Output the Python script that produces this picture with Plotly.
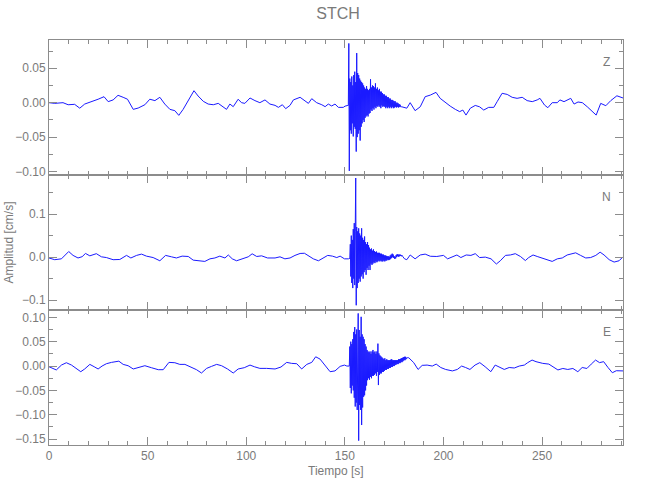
import numpy as np
import plotly.graph_objects as go
from plotly.subplots import make_subplots

# ---------------- Data ----------------
# Z component: quiet part before the event (time [s], amplitude [cm/s])
z_pre_t = [0.0, 2.9, 7.1, 9.7, 13.0, 15.6, 18.1, 21.5, 24.9, 27.9, 30.0, 32.5, 35.0, 37.6, 39.8,
           42.7, 45.2, 48.6, 51.1, 53.7, 56.2, 58.7, 61.3, 63.8, 65.8, 68.0, 70.6, 73.5, 75.6,
           78.2, 80.7, 83.3, 85.8, 88.3, 90.0, 91.7, 93.4, 95.9, 97.6, 99.3, 101.9, 104.4, 106.9,
           109.5, 112.0, 114.6, 116.3, 118.3, 120.0, 122.2, 123.9, 127.3, 129.8, 131.5, 133.2,
           135.7, 138.3, 140.0, 141.6, 143.3, 145.0, 146.7, 149.2, 150.1, 151.5]
z_pre_v = [0.0, -0.001, 0.0, -0.003, -0.0024, -0.008, -0.002, 0.001, 0.005, 0.0087, 0.0015, 0.004,
           0.0107, 0.0078, 0.005, -0.0097, -0.0078, -0.003, 0.005, 0.003, 0.0078, -0.002, -0.0097,
           -0.0116, -0.0184, -0.0097, 0.003, 0.0174, 0.0097, 0.002, -0.002, -0.003, -0.001,
           -0.0058, -0.0097, -0.002, -0.0058, 0.005, 0.0, -0.001, 0.0068, 0.003, 0.0, 0.004,
           -0.002, -0.0039, -0.0068, -0.003, -0.0087, -0.0039, 0.004, 0.0078, 0.002, -0.001,
           0.0058, 0.0, -0.003, -0.0058, -0.002, -0.0048, -0.002, -0.0068, -0.0068, -0.005, -0.004]
# Z component: strong-motion part, sampled every 0.25 s from 151.75 s
z_evt_start = 151.75
z_evt_v = [-0.004, 0.086, -0.099, 0.035, -0.040, 0.030, -0.045, 0.038, -0.030, 0.025, -0.049,
           0.040, -0.035, 0.045, -0.038, 0.030, -0.071, 0.072, -0.050, 0.043, -0.045, 0.040,
           -0.040, 0.035, -0.055, 0.032, -0.035, 0.030, -0.030, 0.028, -0.025, 0.025, -0.028,
           0.022, -0.022, 0.020, -0.020, 0.024, -0.018, 0.020, -0.020, 0.018, -0.016, 0.020,
           -0.015, 0.034, -0.010, 0.022, -0.012, 0.025, -0.008, 0.024, -0.010, 0.022, -0.006,
           0.028, -0.008, 0.020, -0.005, 0.022, -0.006, 0.018, -0.004, 0.020, -0.006, 0.016,
           -0.008, 0.016, -0.004, 0.014, -0.006, 0.012, -0.005, 0.012, -0.006, 0.010, -0.008,
           0.010, -0.006, 0.008, -0.008, 0.008, -0.006, 0.006, -0.008, 0.006, -0.006, 0.004,
           -0.008, 0.004, -0.006, 0.003, -0.008, 0.002, -0.007, 0.002, -0.006, 0.000, -0.007,
           0.000, -0.006, -0.001, -0.007, -0.002, -0.006, -0.003, -0.006]
z_post_t = [178.9, 181.4, 183.1, 185.6, 188.2, 190.7, 193.3, 196.2, 198.3, 200.9, 203.4, 206.0,
            208.2, 209.8, 211.4, 213.6, 216.1, 218.3, 220.4, 222.9, 225.5, 227.2, 229.7, 232.3,
            234.8, 237.3, 239.9, 242.4, 245.0, 247.5, 248.9, 251.2, 252.9, 255.1, 257.7, 259.0,
            261.1, 264.5, 266.2, 268.2, 270.4, 272.9, 275.5, 277.4, 279.7, 282.3, 284.8, 287.9, 291.0]
z_post_v = [-0.006, -0.008, 0.0, -0.0116, -0.006, 0.0087, 0.011, 0.015, 0.0063, 0.0, -0.005,
            -0.0097, -0.013, -0.0107, -0.018, -0.008, -0.004, -0.006, -0.0107, -0.0068, -0.0068,
            0.0015, 0.0136, 0.012, 0.0078, 0.0063, 0.0078, 0.003, 0.0015, 0.004, 0.0063, -0.0034,
            -0.0073, 0.0, 0.0, 0.004, 0.0015, 0.0063, -0.002, 0.001, 0.0, -0.006, -0.013, -0.018,
            -0.001, -0.0044, 0.003, 0.010, 0.0068]

# N component
n_pre_t = [0.0, 2.9, 6.3, 10.0, 12.2, 14.7, 16.8, 18.5, 20.7, 24.0, 26.6, 29.1, 32.5, 35.9, 39.3,
           41.5, 44.4, 46.9, 49.4, 52.8, 56.2, 59.1, 62.1, 64.6, 67.5, 70.6, 73.1, 75.6, 79.0,
           81.6, 84.1, 86.6, 89.2, 90.9, 92.9, 95.1, 97.6, 101.0, 103.0, 105.3, 107.8, 110.8,
           114.6, 117.1, 119.6, 122.2, 124.7, 127.3, 129.5, 131.5, 134.0, 136.6, 139.1, 141.3,
           143.7, 145.9, 147.6, 149.8, 151.8]
n_pre_v = [-0.002, -0.006, -0.004, 0.013, 0.004, -0.002, 0.001, 0.0085, 0.003, 0.008, 0.0007,
           -0.001, -0.006, -0.0055, 0.004, -0.002, 0.004, 0.007, 0.0023, -0.001, -0.0085, 0.004,
           0.0007, -0.002, 0.0023, 0.0015, -0.007, -0.0085, -0.010, -0.004, -0.002, 0.0023,
           -0.002, 0.005, -0.004, -0.0085, -0.004, 0.0007, 0.0077, 0.0015, 0.003, -0.002, -0.002,
           0.0007, -0.004, -0.002, 0.004, 0.0085, 0.009, 0.004, -0.004, -0.0085, -0.001, 0.004,
           0.0023, -0.001, 0.0023, -0.004, -0.004]
n_evt_start = 152.5
n_evt_v = [-0.003, 0.030, -0.045, 0.050, -0.060, 0.040, -0.072, 0.065, -0.050, 0.079, -0.065,
           0.060, 0.184, -0.112, 0.070, -0.072, 0.060, -0.060, 0.067, -0.050, 0.055, -0.057,
           0.050, -0.045, 0.067, -0.040, 0.045, -0.050, 0.040, -0.035, 0.048, -0.030, 0.035,
           -0.041, 0.030, -0.025, 0.035, -0.030, 0.028, -0.020, 0.022, -0.030, 0.018, -0.015,
           0.020, -0.018, 0.015, -0.015, 0.018, -0.012, 0.014, -0.014, 0.012, -0.010, 0.013,
           -0.012, 0.010, -0.010, 0.010, -0.008, 0.010, -0.010, 0.008, -0.008, 0.008, -0.010,
           0.006, -0.010, 0.006, -0.008, 0.004, -0.010, 0.004, -0.008, 0.003, -0.008, 0.002,
           -0.006, 0.002, -0.007, 0.001, -0.006, 0.004, -0.004, 0.006, -0.002, 0.008, 0.000,
           0.006, -0.002, 0.002, -0.004, 0.001, -0.003, 0.005, 0.000, 0.007, 0.002, 0.006, 0.001,
           0.006, 0.002, 0.006, 0.003, 0.005, 0.002, 0.004, 0.002, 0.001, -0.001, -0.002, -0.004]
n_post_t = [181.4, 183.1, 185.6, 188.2, 190.7, 193.3, 196.6, 200.0, 202.1, 204.3, 206.8, 208.8,
            211.5, 213.9, 216.1, 218.3, 221.2, 224.1, 226.8, 228.8, 231.4, 233.9, 236.4, 239.0,
            241.5, 243.2, 245.4, 247.5, 250.0, 252.6, 255.1, 257.7, 260.2, 262.7, 265.3, 267.0,
            269.5, 272.1, 274.6, 277.2, 279.4, 281.4, 284.0, 286.5, 289.0, 291.0]
n_post_v = [-0.006, 0.005, -0.004, 0.005, 0.007, 0.002, 0.0015, 0.004, -0.004, 0.0007, 0.005,
            -0.001, 0.005, 0.004, 0.008, -0.001, 0.0, -0.004, -0.016, -0.0085, 0.004, 0.005,
            0.008, 0.0015, -0.008, -0.001, 0.005, 0.0015, -0.002, -0.007, -0.010, -0.004, -0.002,
            0.005, 0.008, 0.010, 0.004, -0.002, -0.001, 0.004, 0.0115, 0.005, -0.006, -0.0115,
            -0.0085, 0.0007]

# E component
e_pre_t = [0.0, 3.7, 6.3, 8.8, 11.4, 13.9, 16.1, 18.1, 20.7, 22.9, 24.9, 26.9, 29.1, 31.7, 33.7,
           35.4, 37.6, 40.1, 42.7, 45.2, 48.6, 51.9, 55.4, 57.9, 60.8, 63.8, 66.3, 68.9, 72.3,
           74.8, 77.3, 79.9, 82.4, 85.0, 87.5, 90.5, 93.4, 95.9, 99.0, 101.9, 104.1, 106.9, 110.3,
           114.6, 117.6, 120.5, 123.0, 125.6, 128.1, 130.7, 133.2, 135.2, 137.4, 139.9, 142.5,
           145.0, 147.6, 149.8, 151.0]
e_pre_v = [-0.0014, -0.008, 0.002, 0.0068, 0.002, -0.006, -0.0116, -0.006, 0.0034, -0.0014,
           -0.006, 0.0, 0.0048, 0.0075, 0.0089, 0.010, 0.0034, 0.0007, -0.006, -0.0034, 0.0007,
           -0.0034, -0.0075, -0.0075, 0.0075, 0.0068, 0.0034, 0.0034, -0.0034, -0.0075, -0.0143,
           -0.0048, -0.0007, 0.0034, 0.0007, -0.006, -0.0143, -0.006, -0.0034, 0.002, -0.0014,
           -0.0048, -0.0048, -0.006, -0.002, 0.0075, 0.0055, 0.0048, -0.006, 0.0034, 0.0075,
           0.019, 0.0143, 0.0007, -0.0116, -0.010, -0.0007, 0.002, 0.0]
e_evt_start = 152.25
e_evt_v = [0.000, 0.040, -0.045, 0.050, -0.056, 0.045, -0.040, 0.055, -0.050, 0.070, -0.065,
           0.080, -0.083, 0.065, -0.075, 0.075, -0.090, 0.070, 0.108, -0.153, 0.074, -0.080,
           0.060, -0.090, 0.101, -0.121, 0.065, -0.085, 0.060, -0.063, 0.055, -0.060, 0.045,
           -0.050, 0.040, -0.040, 0.033, -0.029, 0.030, -0.025, 0.028, -0.028, 0.030, -0.022,
           0.025, -0.025, 0.030, -0.020, 0.033, -0.020, 0.028, -0.018, 0.030, -0.015, 0.025,
           -0.020, 0.030, -0.012, 0.046, -0.039, 0.026, -0.018, 0.022, -0.015, 0.020, -0.015,
           0.018, -0.012, 0.016, -0.012, 0.014, -0.010, 0.016, -0.008, 0.012, -0.008, 0.014,
           -0.006, 0.012, -0.006, 0.012, -0.004, 0.012, -0.004, 0.013, -0.002, 0.014, -0.002,
           0.012, 0.000, 0.012, 0.000, 0.012, 0.002, 0.012, 0.003, 0.012, 0.004, 0.012, 0.004,
           0.014, 0.006, 0.014, 0.006, 0.015, 0.008, 0.016, 0.008, 0.017, 0.010, 0.018, 0.012,
           0.019, 0.012, 0.019, 0.014, 0.016, 0.018, 0.017]
e_post_t = [182.4, 184.9, 187.1, 189.2, 191.7, 194.3, 196.3, 198.6, 201.1, 204.5, 207.0, 209.2,
            211.2, 213.4, 216.0, 218.4, 221.1, 224.0, 226.2, 228.6, 230.8, 233.3, 235.9, 238.4,
            241.0, 242.7, 244.9, 246.9, 250.3, 253.4, 255.4, 258.0, 260.5, 263.0, 265.6, 268.1,
            270.3, 272.7, 274.9, 277.1, 279.1, 281.2, 283.4, 285.6, 287.6, 291.0]
e_post_v = [0.017, 0.007, -0.007, 0.0014, 0.002, 0.0, 0.004, -0.003, -0.007, -0.010, -0.007,
            0.0, -0.003, -0.007, 0.002, 0.007, -0.0014, -0.0116, 0.002, -0.003, -0.007, -0.003,
            -0.004, 0.0, 0.002, 0.007, 0.0123, 0.009, 0.0055, 0.004, -0.0014, -0.008, -0.005,
            -0.007, -0.005, -0.0116, -0.003, -0.005, 0.004, 0.0123, 0.007, 0.009, -0.003, -0.0137,
            -0.0096, -0.010]

dt_event = 0.25
components = ["Z", "N", "E"]
y_ranges = [[-0.105, 0.091], [-0.123, 0.191], [-0.162, 0.115]]
y_dticks = [0.05, 0.1, 0.05]
y_minor = [0.025, 0.05, 0.025]
y_formats = [".2f", ".1f", ".2f"]


def build(pre_t, pre_v, start, evt_v, post_t, post_v):
    evt_t = list(start + dt_event * np.arange(len(evt_v)))
    return pre_t + evt_t + post_t, pre_v + evt_v + post_v


series = [
    build(z_pre_t, z_pre_v, z_evt_start, z_evt_v, z_post_t, z_post_v),
    build(n_pre_t, n_pre_v, n_evt_start, n_evt_v, n_post_t, n_post_v),
    build(e_pre_t, e_pre_v, e_evt_start, e_evt_v, e_post_t, e_post_v),
]

# ---------------- Figure ----------------
GREY = "#8c8c8c"
TXT = "#7a7a7a"
FONT = "Liberation Sans"

fig = make_subplots(rows=3, cols=1, shared_xaxes=True, vertical_spacing=0)

for i, (t, v) in enumerate(series):
    fig.add_trace(go.Scatter(x=t, y=v, mode="lines",
                             line=dict(color="#1a1aff", width=1),
                             showlegend=False, hoverinfo="skip"), row=i + 1, col=1)

for i in range(3):
    fig.update_xaxes(row=i + 1, col=1, range=[0, 291], showline=True, linecolor=GREY,
                     linewidth=1, mirror="ticks", ticks="inside", ticklen=8, tickcolor=GREY,
                     dtick=50, tick0=0, showgrid=False, zeroline=False, automargin=False,
                     minor=dict(dtick=10, ticks="inside", ticklen=4, tickcolor=GREY,
                                showgrid=False),
                     showticklabels=(i == 2),
                     tickfont=dict(family=FONT, size=12, color=TXT))
    fig.update_yaxes(row=i + 1, col=1, range=y_ranges[i], showline=True, linecolor=GREY,
                     linewidth=1, mirror="ticks", ticks="inside", ticklen=8, tickcolor=GREY,
                     dtick=y_dticks[i], tick0=0, tickformat=y_formats[i], showgrid=False,
                     zeroline=False, automargin=False,
                     minor=dict(dtick=y_minor[i], ticks="inside", ticklen=4, tickcolor=GREY,
                                showgrid=False),
                     tickfont=dict(family=FONT, size=12, color=TXT))

yrefs = ["y domain", "y2 domain", "y3 domain"]
for i, c in enumerate(components):
    fig.add_annotation(text=c, xref="x domain", yref=yrefs[i], x=0.972, y=0.84,
                       xanchor="center", yanchor="middle",
                       showarrow=False, font=dict(family=FONT, size=12, color=TXT))

fig.add_annotation(text="Amplitud [cm/s]", xref="paper", yref="paper", x=0, y=0.5,
                   xanchor="center", yanchor="middle",
                   xshift=-41, textangle=-90, showarrow=False,
                   font=dict(family=FONT, size=12, color=TXT))
fig.add_annotation(text="Tiempo [s]", xref="paper", yref="paper", x=0.5, y=0,
                   xanchor="center", yanchor="middle",
                   yshift=-26, showarrow=False,
                   font=dict(family=FONT, size=12, color=TXT))

fig.update_layout(
    width=650, height=500,
    margin=dict(l=49, r=27, t=40, b=55, autoexpand=False),
    paper_bgcolor="white", plot_bgcolor="white",
    hovermode=False,
    title=dict(text="STCH", x=0.52, xanchor="center", y=0.985, yanchor="top",
               font=dict(family=FONT, size=16, color=TXT)),
)

fig.write_html("out.html", config={"displayModeBar": False},
               post_script="document.body.style.margin='0px';")
